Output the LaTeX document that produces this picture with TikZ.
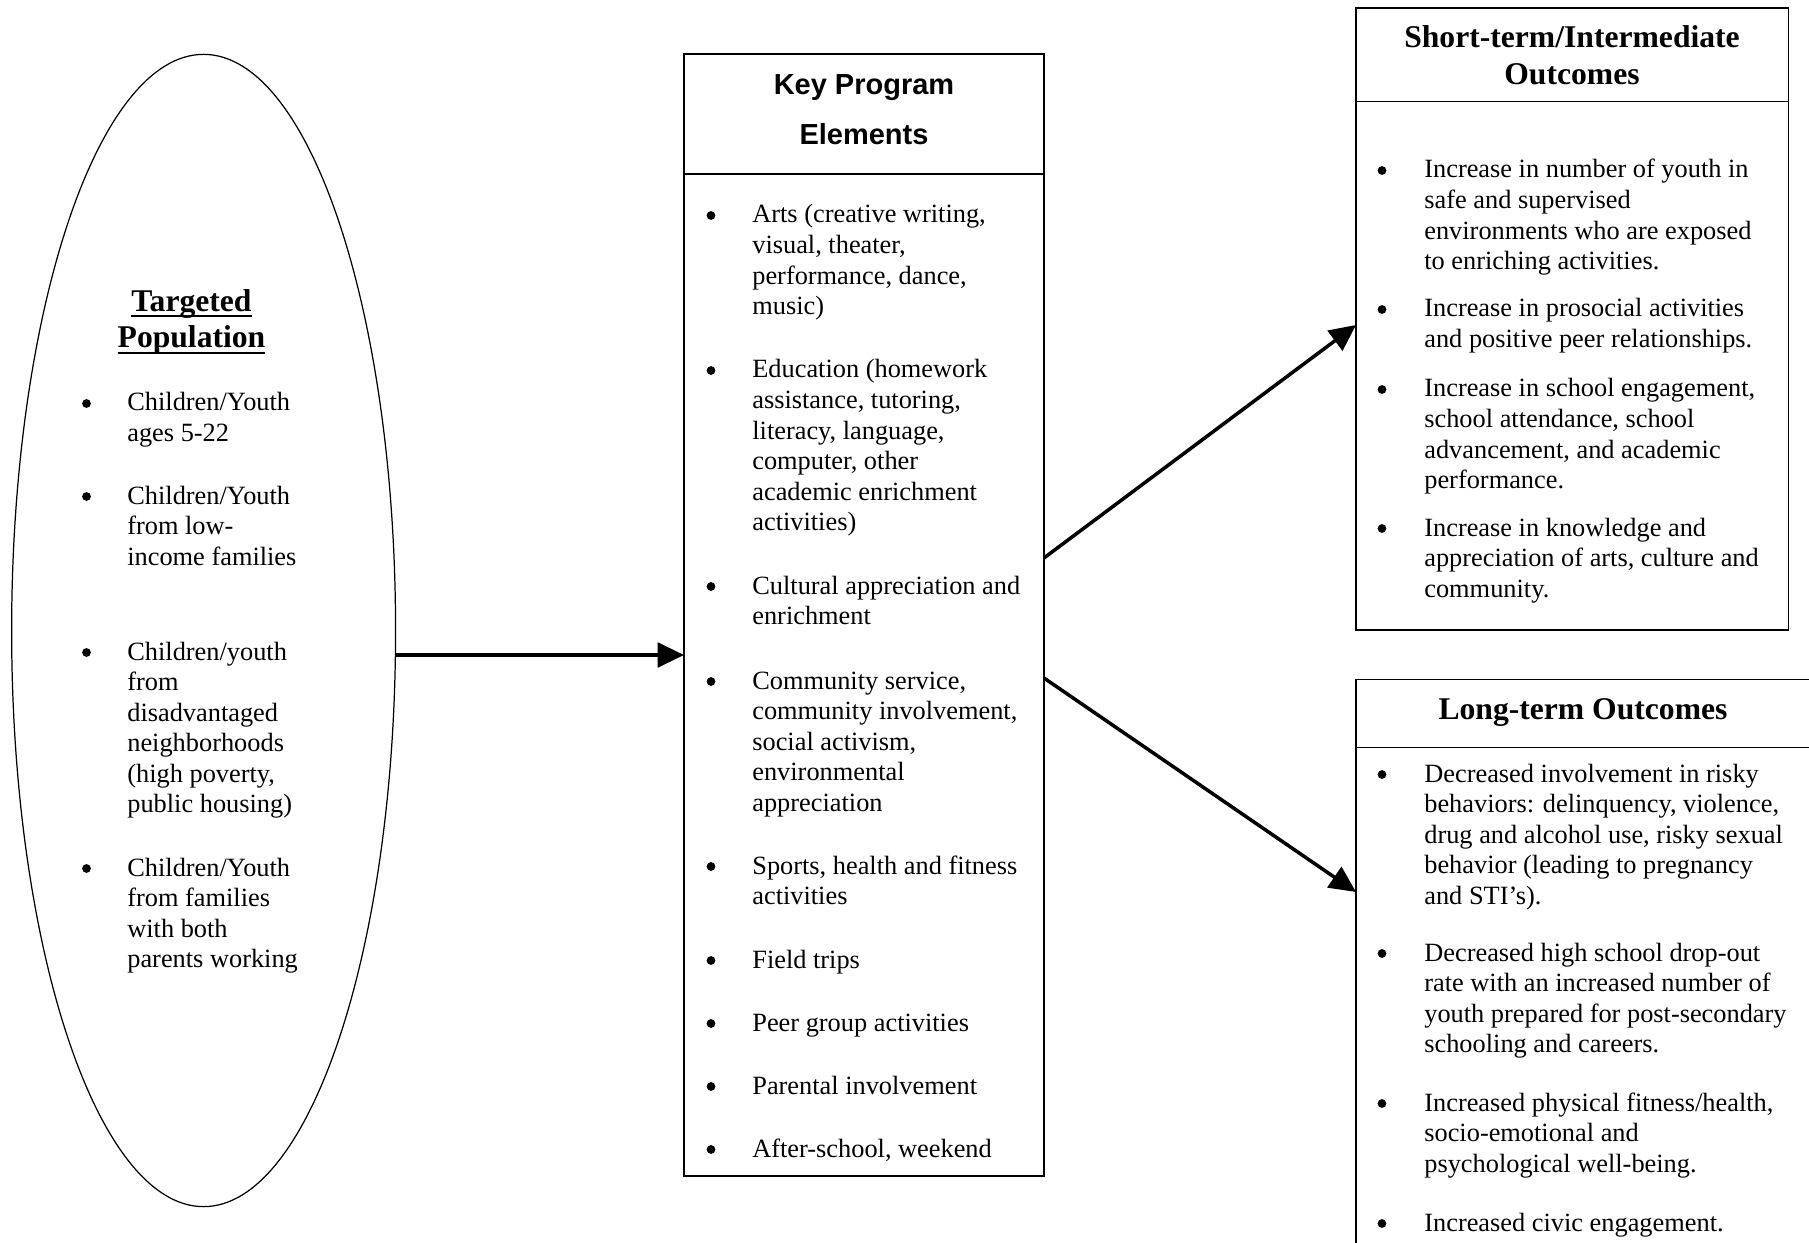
\documentclass[tikz,border=0pt]{standalone}
\usepackage{fontspec}
\setmainfont{Liberation Serif}
\newfontfamily\headsans{Liberation Sans}
\usetikzlibrary{arrows.meta, shapes.geometric}

\newcommand{\itemfont}{\fontsize{15}{17.4}\selectfont}
\newcommand{\boldhead}{\fontsize{18}{21}\selectfont\bfseries}
% 标题下划线：粗 1.1pt，位于基线下方约 2.2pt
\newcommand{\hdul}[1]{\setbox0\hbox{#1}\rlap{\vrule width\wd0 height -2.2pt depth 3.3pt}\box0}
% 多行条目：基线取第一行
\newcommand{\lines}[1]{\begin{tabular}[t]{@{}l@{}}#1\end{tabular}}

\tikzset{
  box/.style={draw, line width=0.9pt, anchor=north west, inner sep=0pt, outer sep=0pt},
  item/.style={anchor=base west, inner sep=0pt, font=\itemfont},
  bull/.style={circle, fill, inner sep=0pt, minimum size=5pt},
  flow/.style={line width=2pt, -{Triangle[length=15pt, width=14pt]}}
}

\begin{document}
\begin{tikzpicture}[x=0.02cm, y=-0.02cm]
  \useasboundingbox (0,0) rectangle (1809,1243);
  \clip (0,0) rectangle (1809,1243);

  % === 左：目标人群（椭圆）===
  \node[draw, ellipse, line width=0.7pt, inner sep=0pt, outer sep=0pt,
        minimum width=7.68cm, minimum height=23.05cm] (pop) at (203.6,630.5) {};
  \node[anchor=base, align=center, font=\boldhead, inner sep=0pt] (pophead) at (191.5,348)
    {\hdul{Targeted}\\\hdul{Population}};
  \foreach \yb/\txt [count=\i] in {
      411/{Children/Youth\\ages 5-22},
      504/{Children/Youth\\from low-\\income families},
      660/{Children/youth\\from\\disadvantaged\\neighborhoods\\(high poverty,\\public housing)},
      876/{Children/Youth\\from families\\with both\\parents working}} {
    \node[bull] (pd\i) at (86.5,\yb-7.5) {};
    \node[item] (pi\i) at (127,\yb) {\lines{\txt}};
  }

  % === 中：项目要素 ===
  \node[box, minimum width=7.2cm, minimum height=22.44cm] (key) at (684,54) {};
  \draw[line width=0.9pt] (684,174) -- (1044,174);
  \node[anchor=base, align=center, inner sep=0pt,
        font=\headsans\fontsize{16.5}{28.5}\selectfont\bfseries] (keyhead) at (864,144.5)
    {Key Program\\Elements};
  \foreach \yb/\txt [count=\i] in {
      223/{Arts (creative writing,\\visual, theater,\\performance, dance,\\music)},
      378/{Education (homework\\assistance, tutoring,\\literacy, language,\\computer, other\\academic enrichment\\activities)},
      594/{Cultural appreciation and\\enrichment},
      689/{Community service,\\community involvement,\\social activism,\\environmental\\appreciation},
      874/{Sports, health and fitness\\activities},
      968/{Field trips},
      1031/{Peer group activities},
      1094/{Parental involvement},
      1157/{After-school, weekend}} {
    \node[bull] (kd\i) at (711,\yb-7.5) {};
    \node[item] (ki\i) at (752,\yb) {\lines{\txt}};
  }

  % === 右上：短期/中期成果 ===
  \node[box, minimum width=8.65cm, minimum height=12.44cm] (short) at (1356,8) {};
  \draw[line width=0.9pt] (1356,101.5) -- (1788.6,101.5);
  \node[anchor=base, align=center, font=\boldhead, inner sep=0pt] (shorthead) at (1572,84.5)
    {Short-term/Intermediate\\Outcomes};
  \foreach \yb/\txt [count=\i] in {
      178/{Increase in number of youth in\\safe and supervised\\environments who are exposed\\to enriching activities.},
      317/{Increase in prosocial activities\\and positive peer relationships.},
      397/{Increase in school engagement,\\school attendance, school\\advancement, and academic\\performance.},
      536/{Increase in knowledge and\\appreciation of arts, culture and\\community.}} {
    \node[bull] (sd\i) at (1382,\yb-7.5) {};
    \node[item] (si\i) at (1424,\yb) {\lines{\txt}};
  }

  % === 右下：长期成果（框体超出画面）===
  \node[box, minimum width=10cm, minimum height=12cm] (long) at (1356,679.5) {};
  \draw[line width=0.9pt] (1356,747.6) -- (1830,747.6);
  \node[anchor=base, font=\boldhead, inner sep=0pt] (longhead) at (1583,719)
    {Long-term Outcomes};
  \foreach \yb/\txt [count=\i] in {
      782/{Decreased involvement in risky\\behaviors: delinquency, violence,\\drug and alcohol use, risky sexual\\behavior (leading to pregnancy\\and STI’s).},
      961/{Decreased high school drop-out\\rate with an increased number of\\youth prepared for post-secondary\\schooling and careers.},
      1111/{Increased physical fitness/health,\\socio-emotional and\\psychological well-being.},
      1231/{Increased civic engagement.}} {
    \node[bull] (ld\i) at (1382,\yb-7.5) {};
    \node[item] (li\i) at (1424,\yb) {\lines{\txt}};
  }

  % === 箭头 ===
  \draw[flow] (pop.east |- 0,655) -- (key.west |- 0,655);
  \draw[flow] (key.east |- 0,558) -- (short.west |- 0,325);
  \draw[flow] (key.east |- 0,678) -- (long.west |- 0,892);
\end{tikzpicture}
\end{document}
